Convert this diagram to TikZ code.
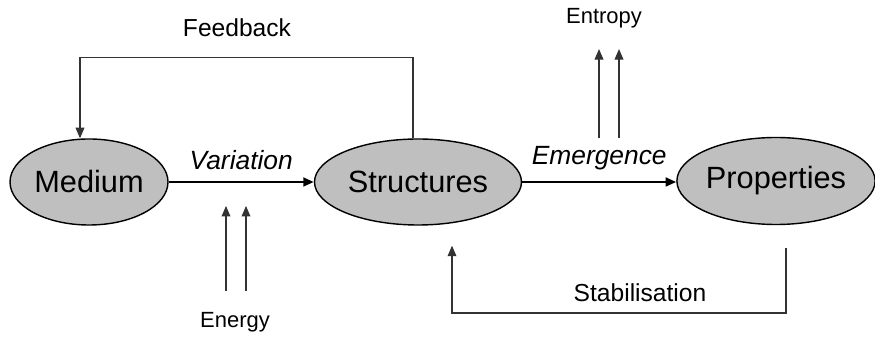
\documentclass[tikz,border=0pt]{standalone}
\usepackage{fontspec}
\setmainfont{Liberation Sans}
\usetikzlibrary{arrows.meta,shapes.geometric}
\tikzset{
  blob/.style = {ellipse, draw, line width=0.8pt, fill=black!25, inner sep=0pt, font=\fontsize{17.5}{20}\selectfont},
  flow/.style = {->, line width=1.3pt},
  thin/.style = {->, line width=0.6pt, draw=black!80},
  lab/.style  = {font=\fontsize{14}{16}\selectfont}
}
\begin{document}
\begin{tikzpicture}[>={Triangle[length=6pt,width=5pt]}]
		    \useasboundingbox (0,0) rectangle (17.5,6.76);

		    \node[blob, minimum width=3.16cm, minimum height=1.72cm] (medium) at (1.78,3.12) {Medium};
		    \node[blob, minimum width=4.14cm, minimum height=1.72cm] (structures) at (8.36,3.12) {Structures};
		    \node[blob, minimum width=3.9cm, minimum height=1.74cm] (properties) at (15.52,3.14) {Properties};

		    \draw[flow] (medium) -- (structures) node[pos=0.5, above, yshift=3pt, lab, font=\fontsize{15}{17}\selectfont\itshape] {Variation};
		    \draw[flow] (structures.east) -- (structures.east -| properties.west) node[pos=0.5, above, yshift=3pt, lab, font=\fontsize{15}{17}\selectfont\itshape] {Emergence};

		    % feedback loop
		    \node[lab] (feedback) at (4.74,6.2) {Feedback};
		    \draw[thin] ([xshift=-0.1cm]structures.north) -- ++(0,1.62) -| ([xshift=-0.18cm]medium.north);

		    % stabilisation loop
		    \node[lab] (stabilisation) at (12.8,0.9) {Stabilisation};
		    \draw[thin] ([xshift=0.2cm, yshift=-0.45cm]properties.south) |- (9.04,0.5) -- ([xshift=0.68cm, yshift=-0.4cm]structures.south);

		    % energy in
		    \node[lab, font=\fontsize{12.5}{14}\selectfont] (energy) at (4.7,0.32) {Energy};
		    \draw[thin] ([xshift=-0.18cm, yshift=0.3cm]energy.north) -- ++(0,1.7);
		    \draw[thin] ([xshift=0.22cm, yshift=0.3cm]energy.north) -- ++(0,1.7);

		    % entropy out
		    \node[lab, font=\fontsize{12.5}{14}\selectfont] (entropy) at (12.08,6.4) {Entropy};
		    \draw[thin] ([xshift=-0.1cm, yshift=-2.08cm]entropy.south) -- ([xshift=-0.1cm, yshift=-0.3cm]entropy.south);
		    \draw[thin] ([xshift=0.3cm, yshift=-2.08cm]entropy.south) -- ([xshift=0.3cm, yshift=-0.3cm]entropy.south);
		\end{tikzpicture}
\end{document}
